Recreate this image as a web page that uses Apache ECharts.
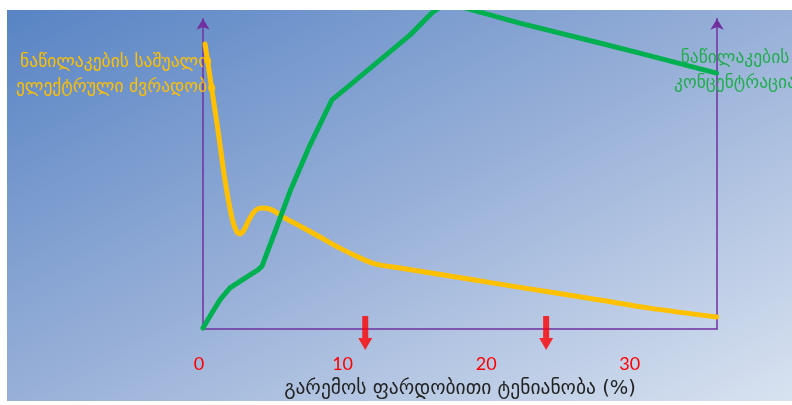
<!DOCTYPE html>
<html>
<head>
<meta charset="utf-8">
<script src="https://cdn.jsdelivr.net/npm/echarts@6/dist/echarts.min.js"></script>
<style>
  html, body { margin: 0; padding: 0; background: #ffffff; width: 792px; height: 405px; overflow: hidden; }
  #c { position: absolute; left: 7px; top: 10px; width: 785px; height: 391px;
       background: linear-gradient(to bottom right, #5884c4 0%, #98b0d8 50%, #d8e2f0 100%); }
</style>
</head>
<body>
<div id="c"></div>
<script>
// x: relative humidity (%), y: relative scale (0-100)
const xTickLabels = ['0', '10', '20', '30'];
const xAxisTitle = 'გარემოს ფარდობითი ტენიანობა (%)';
const leftLabel = ['ნაწილაკების საშუალო', 'ელექტრული ძვრადობა'];
const rightLabel = ['ნაწილაკების', 'კონცენტრაცია'];

const mobilityX = [0.14, 1.04, 1.53, 2.02, 2.30, 2.57, 2.85, 3.27, 3.69, 4.18, 4.80, 5.71, 6.75, 8.14, 9.53, 10.93, 11.97, 13.71, 17.19, 20.67, 24.15, 27.63, 31.11, 35.77];
const mobilityY = [90.2, 63.0, 47.2, 35.1, 31.3, 30.1, 31.3, 35.1, 37.7, 38.3, 37.7, 35.1, 32.6, 29.1, 25.6, 22.5, 20.6, 19.3, 16.8, 14.2, 11.7, 9.2, 6.6, 3.8];

const concX = [0, 0.49, 1.18, 1.88, 2.92, 3.83, 4.11, 5.01, 6.05, 7.45, 8.98, 10.23, 12.32, 14.41, 16.01, 17.05, 18.23, 22.06, 27.63, 30.41, 35.77];
const concY = [0.3, 4.1, 9.2, 13.0, 16.1, 18.7, 19.9, 30.7, 43.4, 58.2, 72.5, 77.2, 85.1, 93.0, 100.3, 103.5, 101.6, 96.8, 90.5, 87.3, 81.0];

const markerX = [11.3, 23.9];
const markerY = [-1.3, -1.3];

const chart = echarts.init(document.getElementById('c'), null, { renderer: 'canvas' });
const purple = '#7030a0';
const geoFont = 'DejaVu Sans';

chart.setOption({
  backgroundColor: 'transparent',
  animation: false,
  title: [
    { text: leftLabel.join('\n'), left: 104, top: 35, textAlign: 'center', z: 0,
      textStyle: { color: '#ffc000', fontFamily: geoFont, fontSize: 17.5, fontWeight: 'normal', lineHeight: 25, align: 'center' } },
    { text: rightLabel.join('\n'), left: 723, top: 31, textAlign: 'center', z: 0,
      textStyle: { color: '#1fae4b', fontFamily: geoFont, fontSize: 17.5, fontWeight: 'normal', lineHeight: 25, align: 'center' } }
  ],
  grid: { left: 196, right: 75, top: 8.7, bottom: 72, containLabel: false, outerBoundsMode: 'none' },
  xAxis: {
    type: 'value', min: 0, max: 35.8, interval: 10,
    name: xAxisTitle, nameLocation: 'middle', nameGap: 50,
    nameTextStyle: { color: '#222222', fontFamily: geoFont, fontSize: 19.5 },
    axisLine: { show: true, lineStyle: { color: purple, width: 1.5 } },
    axisTick: { show: false },
    splitLine: { show: false },
    axisLabel: {
      margin: 26, color: '#ff0000', fontFamily: 'Lato', fontSize: 18, padding: [0, 8, 0, 0],
      formatter: function (v) { const i = Math.round(v / 10); return xTickLabels[i] !== undefined ? xTickLabels[i] : ''; }
    }
  },
  yAxis: [
    { type: 'value', min: 0, max: 98.2, position: 'left',
      axisLine: { show: true, onZero: false, symbol: ['none', 'arrow'], symbolSize: [10, 11], lineStyle: { color: purple, width: 1.5 } },
      axisTick: { show: false }, axisLabel: { show: false }, splitLine: { show: false } },
    { type: 'value', min: 0, max: 98.2, position: 'right',
      axisLine: { show: true, onZero: false, symbol: ['none', 'arrow'], symbolSize: [10, 11], lineStyle: { color: purple, width: 1.5 } },
      axisTick: { show: false }, axisLabel: { show: false }, splitLine: { show: false } }
  ],
  series: [
    { type: 'line', name: 'mobility', data: mobilityX.map((x, i) => [x, mobilityY[i]]),
      smooth: 0.35, showSymbol: false, clip: false, z: 3,
      lineStyle: { color: '#ffc000', width: 5, cap: 'round', join: 'round' } },
    { type: 'line', name: 'concentration', yAxisIndex: 1, data: concX.map((x, i) => [x, concY[i]]),
      smooth: false, showSymbol: false, clip: false, z: 3,
      lineStyle: { color: '#00b050', width: 5, cap: 'round', join: 'round' } },
    { type: 'scatter', name: 'markers', data: markerX.map((x, i) => [x, markerY[i]]), clip: false, z: 4,
      symbol: 'path://M4,0 L10,0 L10,22 L14,22 L7,34 L0,22 L4,22 Z', symbolSize: [14, 34],
      itemStyle: { color: '#ff0000' } }
  ]
});
</script>
</body>
</html>
